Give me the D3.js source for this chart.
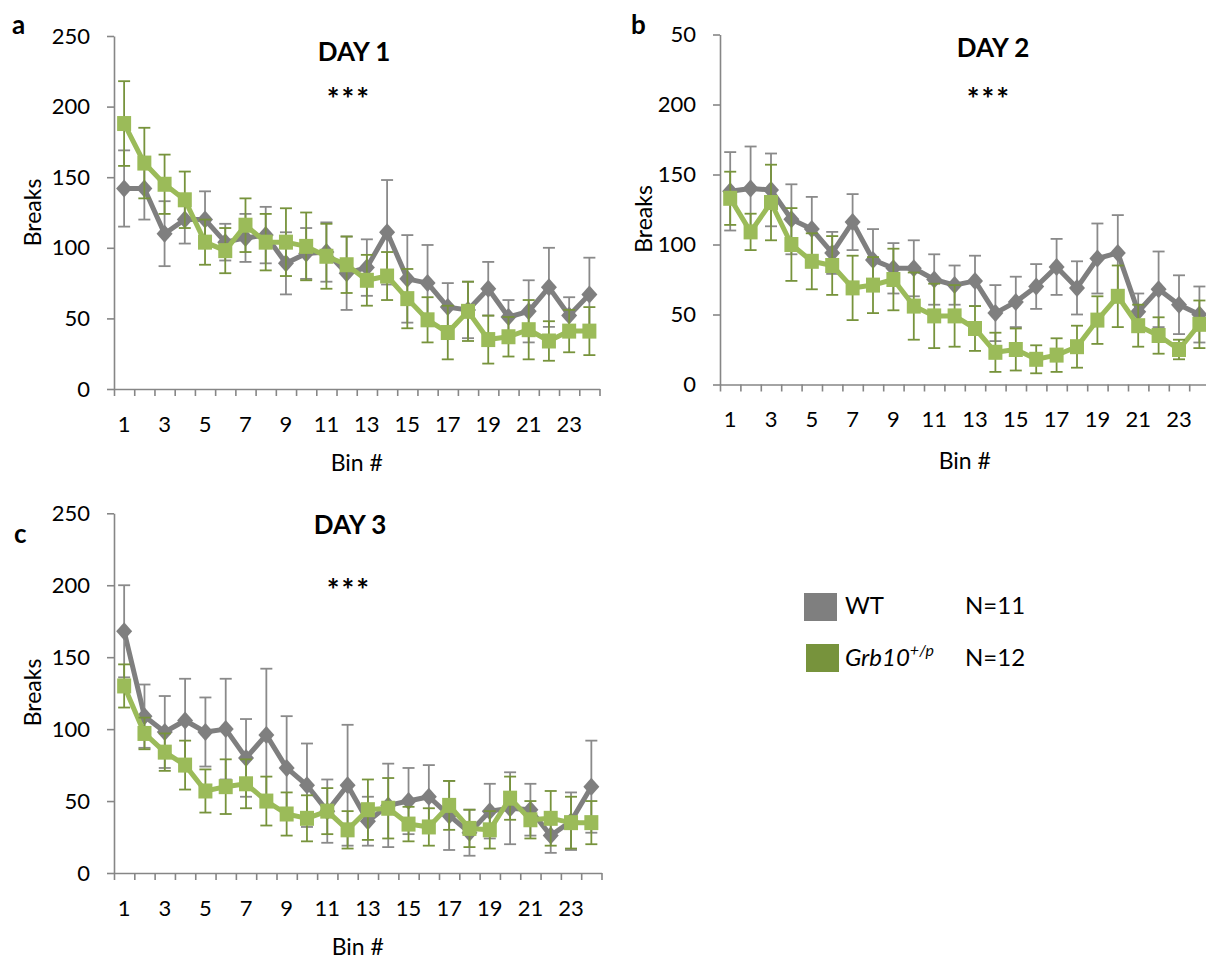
<!DOCTYPE html>
<html>
<head>
<meta charset="utf-8">
<script src="https://cdn.jsdelivr.net/npm/d3@7"></script>
<style>
  html, body { margin: 0; padding: 0; background: #ffffff; }
  svg { display: block; font-family: Lato, "Open Sans", sans-serif; }
</style>
</head>
<body>
<svg id="chart" width="1206" height="960"></svg>
<script>
// ---------- data ----------
const categories = [1,2,3,4,5,6,7,8,9,10,11,12,13,14,15,16,17,18,19,20,21,22,23,24];
const xTickLabels = ["1","3","5","7","9","11","13","15","17","19","21","23"];
const yTicks = [0, 50, 100, 150, 200, 250];
const yTickLabelsA = ["0","50","100","150","200","250"];
const yTickLabelsB = ["0","50","100","150","200","50"];
const yTickLabelsC = ["0","50","100","150","200","250"];

const day1WT     = [142,142,110,120,120,104,107,109,89,96,97,82,86,111,78,75,58,56,71,51,55,72,52,67];
const day1WTErr  = [27,22,23,17,20,13,17,20,22,18,21,26,20,37,31,27,17,20,19,12,22,28,13,26];
const day1Grb    = [188,160,145,134,104,98,116,104,104,101,94,88,77,80,64,49,40,55,35,37,42,34,41,41];
const day1GrbErr = [30,25,21,20,16,16,19,20,24,24,23,20,18,17,21,16,19,21,17,14,21,14,15,17];

const day2WT     = [138,140,139,118,111,94,116,89,83,83,75,71,74,51,59,70,84,69,90,94,52,68,57,50];
const day2WTErr  = [28,30,26,25,23,15,20,22,18,20,18,14,18,20,18,16,20,19,25,27,13,27,21,20];
const day2Grb    = [133,109,130,100,88,85,69,71,75,56,49,49,40,23,25,18,21,27,46,63,42,35,25,43];
const day2GrbErr = [19,13,27,26,20,21,23,20,22,24,23,22,16,14,15,10,12,15,17,22,15,13,7,17];

const day3WT     = [168,109,98,106,98,100,80,96,73,61,43,61,36,47,50,53,40,28,43,45,44,26,36,60];
const day3WTErr  = [32,22,25,29,24,35,27,46,36,29,22,42,17,29,23,22,24,16,19,25,18,12,20,32];
const day3Grb    = [130,97,84,75,57,60,62,50,41,38,43,30,44,45,34,32,47,31,30,52,37,38,35,35];
const day3GrbErr = [15,11,13,17,15,19,17,17,15,16,16,13,21,21,12,13,17,13,13,15,13,19,18,15];

const seriesNames = ["WT", "Grb10"];
const legendN = ["N=11", "N=12"];

// ---------- styles ----------
const GRAY = "#7f7f7f";
const GRAY_ERR = "#8a8a8a";
const GREEN = "#9bbb59";
const GREEN_ERR = "#77933c";
const AXIS = "#868686";

const svg = d3.select("#chart");

function styleAxis(g) {
  g.selectAll("path.domain").attr("stroke", AXIS).attr("stroke-width", 1.6);
  g.selectAll(".tick line").attr("stroke", AXIS).attr("stroke-width", 1.6);
  g.selectAll("text").attr("fill", "#000").style("font-size", "22px").style("font-family", "Lato, sans-serif");
}

function drawPanel(cfg) {
  const g = svg.append("g");
  const x = d3.scaleBand().domain(categories).range([cfg.x0, cfg.x1]).padding(0);
  const xb = d3.scaleLinear().domain([0, categories.length]).range([cfg.x0, cfg.x1]);
  const y = d3.scaleLinear().domain([0, 250]).range([cfg.yBottom, cfg.yTop]);
  const cx = d => x(d) + x.bandwidth() / 2;

  // y axis
  const ya = g.append("g").attr("transform", `translate(${cfg.x0},0)`)
    .call(d3.axisLeft(y).tickValues(yTicks).tickSize(7).tickSizeOuter(0).tickPadding(17)
      .tickFormat((d, i) => cfg.yLabels[i]));
  styleAxis(ya);

  // x axis (tick marks between categories)
  const xa = g.append("g").attr("transform", `translate(0,${cfg.yBottom})`)
    .call(d3.axisBottom(xb).tickValues(d3.range(0, categories.length + 1)).tickSize(7).tickSizeOuter(0).tickFormat(""));
  styleAxis(xa);

  // x labels at odd categories
  const xl = g.append("g").attr("transform", `translate(0,${cfg.yBottom})`)
    .call(d3.axisBottom(x).tickValues(categories.filter(c => c % 2 === 1)).tickSize(0).tickPadding(27)
      .tickFormat((d, i) => xTickLabels[i]));
  xl.select("path.domain").remove();
  styleAxis(xl);

  // axis titles
  g.append("text").attr("x", (cfg.x0 + cfg.x1) / 2).attr("y", cfg.binY)
    .attr("text-anchor", "middle").style("font-size", "23px").text("Bin #");
  g.append("text").attr("transform", `translate(${cfg.breaksX},${cfg.breaksY}) rotate(-90)`)
    .attr("text-anchor", "middle").style("font-size", "23px").text("Breaks");

  // titles
  g.append("text").attr("x", cfg.titleX).attr("y", cfg.titleY).attr("text-anchor", "middle")
    .style("font-size", "26px").style("font-weight", "bold").text(cfg.title);
  g.append("text").attr("x", cfg.starX).attr("y", cfg.starY).attr("text-anchor", "middle")
    .style("font-size", "30px").style("font-weight", "bold").style("letter-spacing", "2px").text("***");
  g.append("text").attr("x", cfg.letterX).attr("y", cfg.letterY)
    .style("font-size", "26px").style("font-weight", "bold").text(cfg.letter);

  const line = d3.line().x((d, i) => cx(categories[i])).y(d => y(d));

  function series(vals, errs, color, errColor, marker) {
    const s = g.append("g");
    s.append("path").datum(vals).attr("d", line).attr("fill", "none")
      .attr("stroke", color).attr("stroke-width", 5).attr("stroke-linejoin", "round");
    const eb = s.append("g").attr("stroke", errColor).attr("stroke-width", 1.8);
    vals.forEach((v, i) => {
      const px = cx(categories[i]);
      const top = y(v + errs[i]), bot = y(Math.max(0, v - errs[i]));
      eb.append("line").attr("x1", px).attr("x2", px).attr("y1", top).attr("y2", bot);
      eb.append("line").attr("x1", px - 6).attr("x2", px + 6).attr("y1", top).attr("y2", top);
      eb.append("line").attr("x1", px - 6).attr("x2", px + 6).attr("y1", bot).attr("y2", bot);
    });
    vals.forEach((v, i) => {
      const px = cx(categories[i]), py = y(v);
      if (marker === "diamond") {
        s.append("path").attr("d", `M${px},${py - 9}L${px + 8},${py}L${px},${py + 9}L${px - 8},${py}Z`).attr("fill", color);
      } else {
        s.append("rect").attr("x", px - 7).attr("y", py - 7.5).attr("width", 14).attr("height", 15).attr("fill", color);
      }
    });
  }
  series(cfg.wt, cfg.wtErr, GRAY, GRAY_ERR, "diamond");
  series(cfg.grb, cfg.grbErr, GREEN, GREEN_ERR, "square");
}

drawPanel({
  x0: 114, x1: 599.5, yBottom: 389, yTop: 36, yLabels: yTickLabelsA,
  wt: day1WT, wtErr: day1WTErr, grb: day1Grb, grbErr: day1GrbErr,
  title: "DAY 1", titleX: 354, titleY: 61, starX: 349, starY: 110,
  letter: "a", letterX: 12, letterY: 34, binY: 471, breaksX: 41, breaksY: 212.5
});
drawPanel({
  x0: 720, x1: 1209.6, yBottom: 384.5, yTop: 34.5, yLabels: yTickLabelsB,
  wt: day2WT, wtErr: day2WTErr, grb: day2Grb, grbErr: day2GrbErr,
  title: "DAY 2", titleX: 993, titleY: 57, starX: 989, starY: 110,
  letter: "b", letterX: 631, letterY: 34, binY: 469, breaksX: 652, breaksY: 219
});
drawPanel({
  x0: 114, x1: 601.5, yBottom: 873, yTop: 513.3, yLabels: yTickLabelsC,
  wt: day3WT, wtErr: day3WTErr, grb: day3Grb, grbErr: day3GrbErr,
  title: "DAY 3", titleX: 350, titleY: 534, starX: 349, starY: 601,
  letter: "c", letterX: 14, letterY: 543, binY: 955, breaksX: 41, breaksY: 692.5
});

// ---------- legend ----------
const lg = svg.append("g");
lg.append("rect").attr("x", 804).attr("y", 593).attr("width", 33).attr("height", 28).attr("fill", GRAY);
lg.append("rect").attr("x", 806).attr("y", 644).attr("width", 33).attr("height", 28).attr("fill", GREEN_ERR);
lg.append("text").attr("x", 845).attr("y", 614).style("font-size", "24px").text(seriesNames[0]);
const t2 = lg.append("text").attr("x", 845).attr("y", 666).style("font-size", "24px");
t2.append("tspan").style("font-style", "italic").text(seriesNames[1]);
t2.append("tspan").attr("dy", -10).style("font-style", "italic").style("font-size", "16px").text("+/p");
lg.append("text").attr("x", 965).attr("y", 614).style("font-size", "24px").text(legendN[0]);
lg.append("text").attr("x", 965).attr("y", 666).style("font-size", "24px").text(legendN[1]);
</script>
</body>
</html>
